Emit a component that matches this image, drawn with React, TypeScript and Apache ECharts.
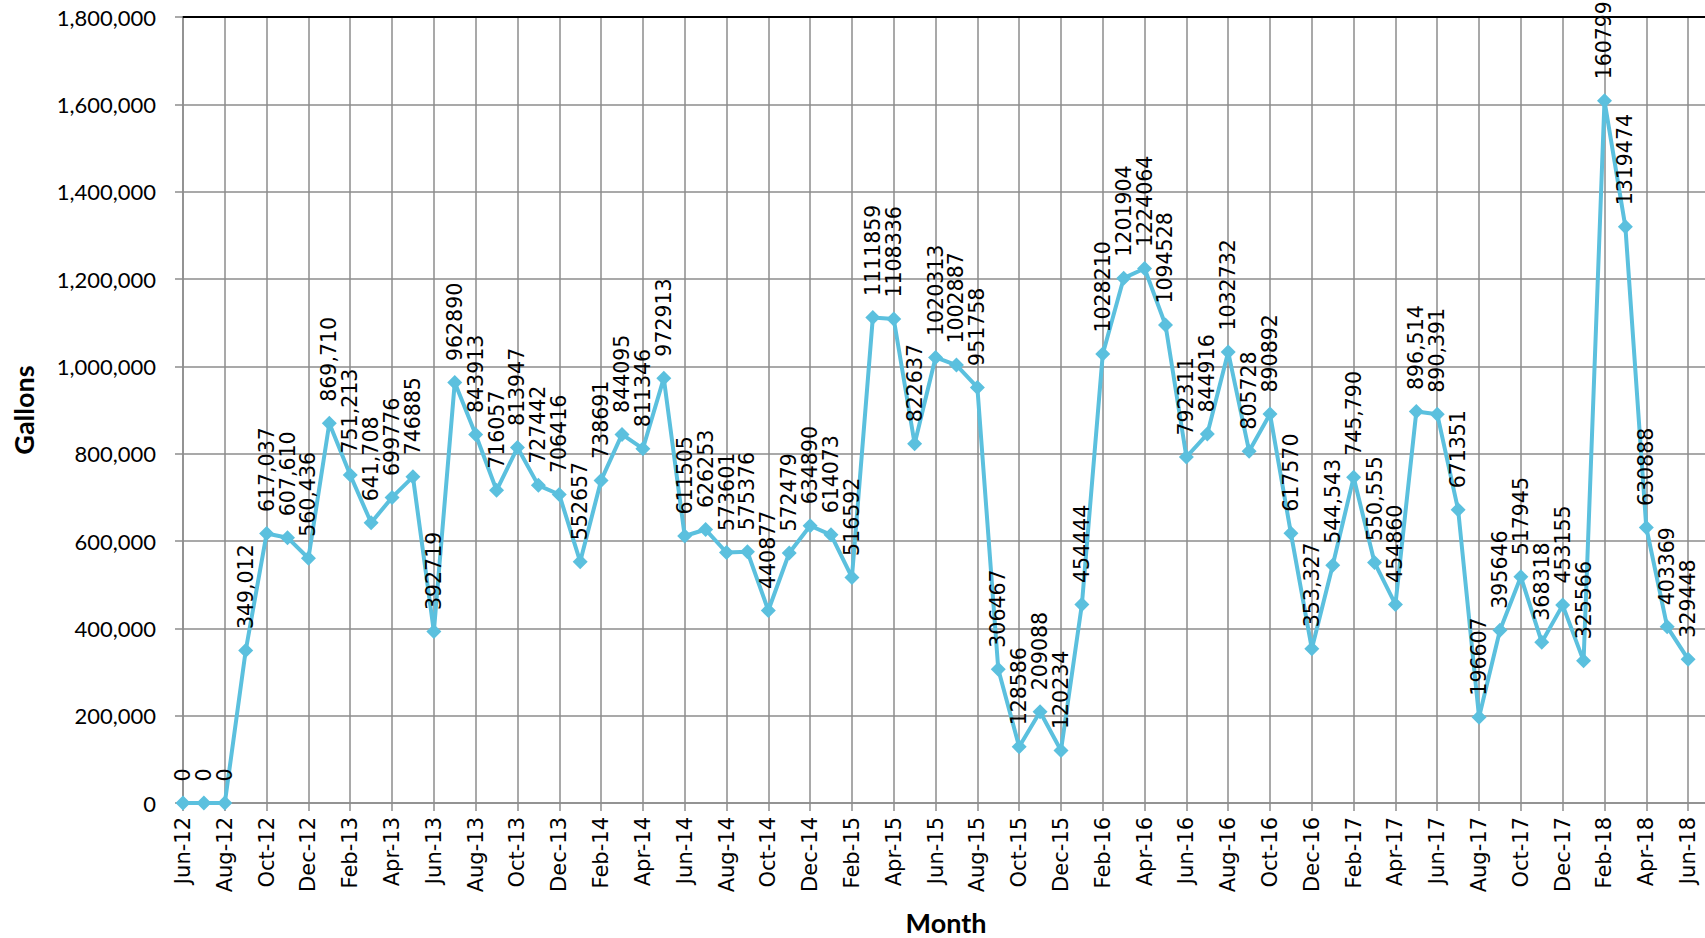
import React, { useEffect, useRef } from "react";
import * as echarts from "echarts";

const months: string[] = [
  "Jun-12", "Jul-12", "Aug-12", "Sep-12", "Oct-12", "Nov-12", "Dec-12",
  "Jan-13", "Feb-13", "Mar-13", "Apr-13", "May-13", "Jun-13", "Jul-13", "Aug-13", "Sep-13", "Oct-13", "Nov-13", "Dec-13",
  "Jan-14", "Feb-14", "Mar-14", "Apr-14", "May-14", "Jun-14", "Jul-14", "Aug-14", "Sep-14", "Oct-14", "Nov-14", "Dec-14",
  "Jan-15", "Feb-15", "Mar-15", "Apr-15", "May-15", "Jun-15", "Jul-15", "Aug-15", "Sep-15", "Oct-15", "Nov-15", "Dec-15",
  "Jan-16", "Feb-16", "Mar-16", "Apr-16", "May-16", "Jun-16", "Jul-16", "Aug-16", "Sep-16", "Oct-16", "Nov-16", "Dec-16",
  "Jan-17", "Feb-17", "Mar-17", "Apr-17", "May-17", "Jun-17", "Jul-17", "Aug-17", "Sep-17", "Oct-17", "Nov-17", "Dec-17",
  "Jan-18", "Feb-18", "Mar-18", "Apr-18", "May-18", "Jun-18",
];

const gallons: number[] = [
  0, 0, 0, 349012, 617037, 607610, 560436,
  869710, 751213, 641708, 699776, 746885, 392719, 962890, 843913, 716057, 813947, 727442, 706416,
  552657, 738691, 844095, 811346, 972913, 611505, 626253, 573601, 575376, 440877, 572479, 634890,
  614073, 516592, 1111859, 1108336, 822637, 1020313, 1002887, 951758, 306467, 128586, 209088, 120234,
  454444, 1028210, 1201904, 1224064, 1094528, 792311, 844916, 1032732, 805728, 890892, 617570, 353327,
  544543, 745790, 550555, 454860, 896514, 890391, 671351, 196607, 395646, 517945, 368318, 453155,
  325566, 1607990, 1319474, 630888, 403369, 329448,
];

// months whose data labels are shown with thousands separators
const commaLabelMonths: string[] = [
  "Sep-12", "Oct-12", "Nov-12", "Dec-12", "Jan-13", "Feb-13", "Mar-13",
  "Dec-16", "Jan-17", "Feb-17", "Mar-17", "May-17", "Jun-17",
];

const yTicks = { min: 0, max: 1800000, interval: 200000 };

const LINE_COLOR = "#5bc0de";
const GRID_COLOR = "#8c8c8c";

export default function App() {
  const ref = useRef<HTMLDivElement>(null);

  useEffect(() => {
    document.body.style.margin = "0";
    if (!ref.current) return;
    const chart = echarts.init(ref.current, undefined, { renderer: "svg" });
    const fmt = (v: number) => v.toLocaleString("en-US");
    const data = gallons.map((v, i) => [i, v]);
    chart.setOption({
      animation: false,
      backgroundColor: "#ffffff",
      grid: {
        left: 183,
        top: 17,
        bottom: 135,
        right: -4,
        containLabel: false,
        outerBoundsMode: "none",
      },
      xAxis: [
        {
          type: "value",
          min: 0,
          max: 73,
          interval: 2,
          position: "bottom",
          name: "Month",
          nameLocation: "middle",
          nameGap: 106,
          nameTextStyle: { fontFamily: "Lato", fontWeight: "bold", fontSize: 27, color: "#000" },
          axisLine: { show: true, lineStyle: { color: GRID_COLOR, width: 1.5 } },
          axisTick: { show: true, length: 8, lineStyle: { color: GRID_COLOR, width: 1.5 } },
          splitLine: { show: true, lineStyle: { color: GRID_COLOR, width: 1.5 } },
          axisLabel: {
            rotate: 90,
            margin: 14,
            fontFamily: "DejaVu Sans",
            fontSize: 21,
            color: "#000",
            formatter: (v: number) => (Number.isInteger(v) && months[v] ? months[v] : ""),
          },
        },
        {
          type: "value",
          min: 0,
          max: 73,
          position: "top",
          axisLine: { show: true, lineStyle: { color: "#000", width: 2 } },
          axisTick: { show: false },
          axisLabel: { show: false },
          splitLine: { show: false },
        },
      ],
      yAxis: {
        type: "value",
        min: yTicks.min,
        max: yTicks.max,
        interval: yTicks.interval,
        name: "Gallons",
        nameLocation: "middle",
        nameRotate: 90,
        nameGap: 146,
        nameTextStyle: { fontFamily: "Lato", fontWeight: "bold", fontSize: 27, color: "#000" },
        axisLine: { show: true, lineStyle: { color: GRID_COLOR, width: 1.5 } },
        axisTick: { show: true, length: 8, lineStyle: { color: GRID_COLOR, width: 1.5 } },
        splitLine: { show: true, lineStyle: { color: GRID_COLOR, width: 1.5 } },
        axisLabel: {
          margin: 27,
          fontFamily: "Lato",
          fontSize: 22,
          color: "#000",
          formatter: (v: number) => fmt(v),
        },
      },
      series: [
        {
          type: "line",
          data,
          xAxisIndex: 0,
          clip: false,
          symbol: "diamond",
          symbolSize: 15,
          lineStyle: { color: LINE_COLOR, width: 4 },
          itemStyle: { color: LINE_COLOR },
          label: {
            show: true,
            position: "top",
            rotate: 90,
            align: "left",
            verticalAlign: "middle",
            distance: 14,
            fontFamily: "DejaVu Sans",
            fontSize: 20.5,
            color: "#000",
            formatter: (p: any) => {
              const i = p.dataIndex;
              const v = gallons[i];
              return commaLabelMonths.includes(months[i]) ? fmt(v) : String(v);
            },
          },
        },
      ],
    });
    return () => chart.dispose();
  }, []);

  return <div ref={ref} style={{ width: 1705, height: 938 }} />;
}
